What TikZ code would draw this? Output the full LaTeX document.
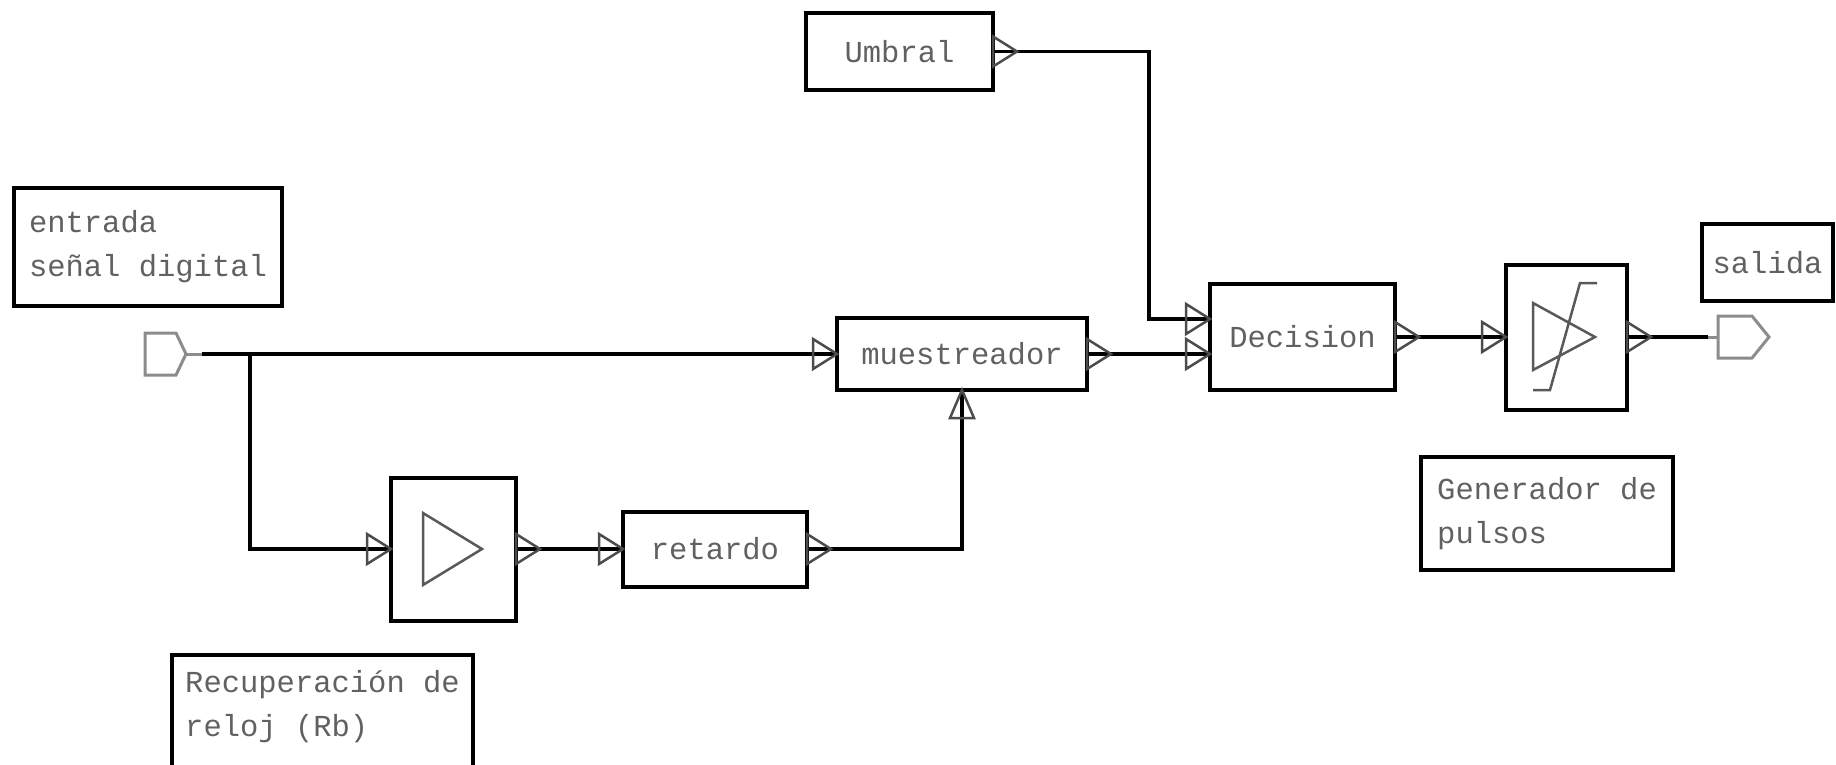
\documentclass[tikz,border=0pt]{standalone}
\usepackage{fontspec}
\newfontfamily\monofam{Liberation Mono}
\tikzset{
  box/.style={draw=black, line width=4pt, inner sep=0pt, outer sep=0pt},
  txt/.style={text=black!62, font=\monofam\fontsize{30.5}{44}\selectfont, inner sep=0pt, align=left},
  wire/.style={draw=black, line width=3.5pt},
  portmark/.style={draw=black!70, line width=2.5pt, line join=miter},
  symb/.style={draw=black!65, line width=2.5pt},
  portshape/.style={draw=black!45, line width=3pt},
  triin/.pic={\draw[portmark] (-24,-15) -- (-24,15) -- (0,0) -- cycle;},
  triout/.pic={\draw[portmark] (0,-15) -- (0,15) -- (24,0) -- cycle;},
  triup/.pic={\draw[portmark] (-12,28) -- (12,28) -- (0,0) -- cycle;}
}
\begin{document}
\begin{tikzpicture}[x=1pt,y=-1pt]
\useasboundingbox (0,0) rectangle (1836,765);
% boxes
\node[box, txt, minimum width=187, minimum height=77] (umb) at (899.5,51.5) {Umbral};
\node[box, txt, minimum width=268, minimum height=118] (ent) at (148,247) {entrada\\señal digital};
\node[box, txt, minimum width=250, minimum height=72] (mues) at (962,354) {muestreador};
\node[box, txt, minimum width=185, minimum height=106] (dec) at (1302.5,337) {Decision};
\node[box, minimum width=121, minimum height=145] (pul) at (1566.5,337) {};
\node[box, txt, minimum width=131, minimum height=77] (sal) at (1767.5,262.5) {salida};
\node[box, txt, minimum width=252, minimum height=113] (gen) at (1547,513.5) {Generador de\\pulsos};
\node[box, minimum width=125, minimum height=143] (amp) at (453.5,549) {};
\node[box, txt, minimum width=184, minimum height=75] (ret) at (715,549) {retardo};
\node[box, anchor=north, minimum width=301, minimum height=200] (recup) at (322.5,655) {};
\node[txt] (recuptxt) at (322.5,706.5) {Recuperación de\\reloj (Rb)};
% coordinates
\coordinate (inp) at (202,354);
\coordinate (br) at (250,354);
\coordinate (outp) at (1708,337);
\coordinate (decB) at (mues.east -| dec.west);
\coordinate (decA) at ([yshift=35pt]decB);
% wires
\draw[wire] (inp) -- (mues.west);
\draw[wire] (br) |- (amp.west);
\draw[wire] (amp.east) -- (ret.west);
\draw[wire] (ret.east) -| (mues.south);
\draw[wire] (mues.east) -- (decB);
\draw[wire] (umb.east) -| ([xshift=-61pt]decA) -- (decA);
\draw[wire] (dec.east) -- (pul.west);
\draw[wire] (pul.east) -- (outp);
% port markers
\pic at (mues.west) {triin};
\pic at (amp.west) {triin};
\pic at (ret.west) {triin};
\pic at (pul.west) {triin};
\pic at (decA) {triin};
\pic at (decB) {triin};
\pic at (mues.east) {triout};
\pic at (amp.east) {triout};
\pic at (ret.east) {triout};
\pic at (umb.east) {triout};
\pic at (dec.east) {triout};
\pic at (pul.east) {triout};
\pic at (mues.south) {triup};
% in/out ports
\draw[portshape] (145,333) -- (176,333) -- (186,354) -- (176,375) -- (145,375) -- cycle;
\draw[portshape] (186,354) -- (inp);
\draw[portshape] (1718,316) -- (1752,316) -- (1769,337) -- (1752,358) -- (1718,358) -- cycle;
\draw[portshape] (outp) -- (1718,337);
% symbols
\draw[symb] (423,513) -- (423,585) -- (482,549) -- cycle;
\draw[symb] (1533,303) -- (1533,370) -- (1595,337) -- cycle;
\draw[symb] (1533,390) -- (1550,390) -- (1580,283) -- (1597,283);
\end{tikzpicture}
\end{document}
